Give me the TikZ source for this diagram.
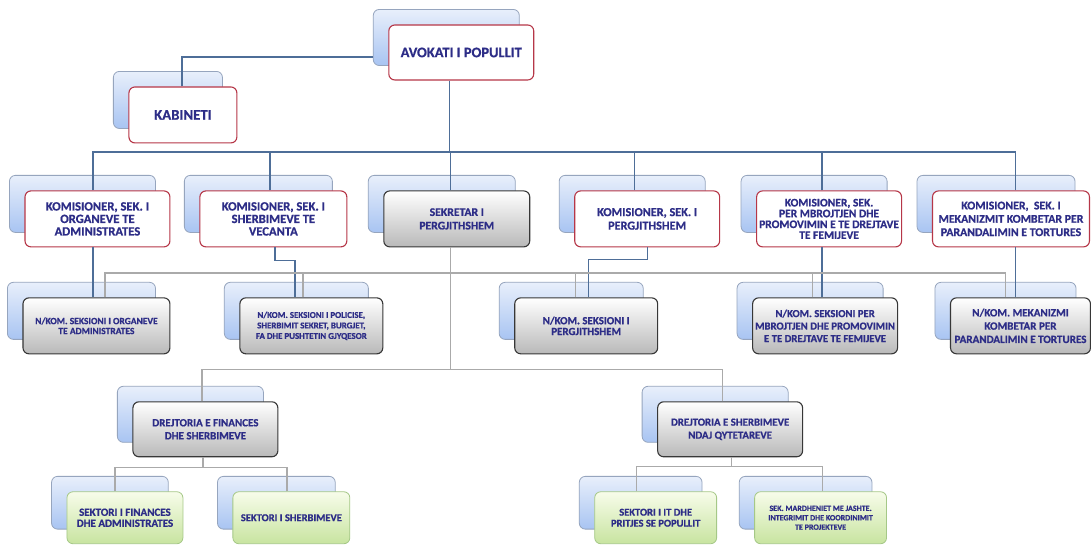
\documentclass[tikz,border=0pt]{standalone}
\usepackage{fontspec}
\newfontfamily\orgfont{Carlito}[BoldFeatures={FakeBold=0.8}]
\usetikzlibrary{backgrounds}

\definecolor{orgtext}{RGB}{45,45,135}
\definecolor{linkblue}{RGB}{78,110,152}
\definecolor{linkgray}{RGB}{170,170,170}
\definecolor{rededge}{RGB}{182,55,72}
\definecolor{darkedge}{RGB}{55,55,55}
\definecolor{greenedge}{RGB}{165,200,135}
\definecolor{backedge}{RGB}{150,165,190}
\definecolor{backtop}{RGB}{232,239,251}
\definecolor{backbot}{RGB}{168,196,242}
\definecolor{graybot}{RGB}{185,185,185}
\definecolor{greentop}{RGB}{247,252,234}
\definecolor{greenbot}{RGB}{200,228,160}

\begin{document}
\begin{tikzpicture}[x=1pt, y=-1pt,
    unit/.style={rounded corners=6pt, align=center, inner sep=1pt, text=orgtext, minimum height=56},
    redunit/.style={unit, draw=rededge, line width=1.1pt, fill=white},
    grayunit/.style={unit, draw=darkedge, line width=1.1pt, top color=white, bottom color=graybot},
    greenunit/.style={unit, draw=greenedge, line width=0.8pt, top color=greentop, bottom color=greenbot, minimum height=52},
    backunit/.style={rounded corners=6pt, draw=backedge, line width=0.8pt, top color=backtop, bottom color=backbot},
    boldfs/.style 2 args={font=\orgfont\bfseries\fontsize{#1}{#2}\selectfont},
    bline/.style={draw=linkblue, line width=1.3pt},
    gline/.style={draw=linkgray, line width=1.3pt}]

  % top
  \node[redunit, boldfs={14.5}{16}, minimum width=145, minimum height=55] (avok) at (461.5,52.5) {AVOKATI I POPULLIT};
  \node[redunit, boldfs={14.8}{16}, minimum width=108] (kab) at (183,115) {KABINETI};

  % komisioneret
  \node[redunit, boldfs={12.6}{12.5}, minimum width=145] (k1) at (97.5,219) {KOMISIONER, SEK. I\\ORGANEVE TE\\ADMINISTRATES};
  \node[redunit, boldfs={12.6}{12.5}, minimum width=147] (k2) at (273.5,219) {KOMISIONER, SEK. I\\SHERBIMEVE TE\\VECANTA};
  \node[grayunit, boldfs={11.7}{13.5}, minimum width=146] (sek) at (457,219) {SEKRETAR I\\PERGJITHSHEM};
  \node[redunit, boldfs={12.2}{13.5}, minimum width=145] (k4) at (647.5,219) {KOMISIONER, SEK. I\\PERGJITHSHEM};
  \node[redunit, boldfs={11.5}{10.8}, minimum width=145] (k5) at (829.5,219) {KOMISIONER, SEK.\\PER MBROJTJEN DHE\\PROMOVIMIN E TE DREJTAVE\\TE FEMIJEVE};
  \node[redunit, boldfs={11.8}{13.3}, minimum width=157] (k6) at (1011.5,219) {KOMISIONER,\ \ SEK. I\\MEKANIZMIT KOMBETAR PER\\PARANDALIMIN E TORTURES};

  % seksionet
  \node[grayunit, boldfs={9.5}{10}, minimum width=147] (n1) at (96.5,326) {N/KOM. SEKSIONI I ORGANEVE\\TE ADMINISTRATES};
  \node[grayunit, boldfs={8.9}{10.5}, minimum width=143] (n2) at (311.5,326) {N/KOM. SEKSIONI I POLICISE,\\SHERBIMIT SEKRET, BURGJET,\\FA DHE PUSHTETIN GJYQESOR};
  \node[grayunit, boldfs={10.9}{10.8}, minimum width=143] (n3) at (586.5,326) {N/KOM. SEKSIONI I\\PERGJITHSHEM};
  \node[grayunit, boldfs={10.7}{12.5}, minimum width=145] (n4) at (825.5,326) {N/KOM. SEKSIONI PER\\MBROJTJEN DHE PROMOVIMIN\\E TE DREJTAVE TE FEMIJEVE};
  \node[grayunit, boldfs={11.1}{13.3}, minimum width=140] (n5) at (1021,326) {N/KOM. MEKANIZMI\\KOMBETAR PER\\PARANDALIMIN E TORTURES};

  % drejtorite
  \node[grayunit, boldfs={11}{13}, minimum width=145, minimum height=55] (d1) at (205.5,429.5) {DREJTORIA E FINANCES\\DHE SHERBIMEVE};
  \node[grayunit, boldfs={10.8}{13}, minimum width=145, minimum height=55] (d2) at (730.5,429.5) {DREJTORIA E SHERBIMEVE\\NDAJ QYTETAREVE};

  % sektoret
  \node[greenunit, boldfs={11}{11}, minimum width=116] (s1) at (125,518) {SEKTORI I FINANCES\\DHE ADMINISTRATES};
  \node[greenunit, boldfs={10.5}{11}, minimum width=117] (s2) at (291.5,518) {SEKTORI I SHERBIMEVE};
  \node[greenunit, boldfs={10.5}{11}, minimum width=122] (s3) at (656,518) {SEKTORI I IT DHE\\PRITJES SE POPULLIT};
  \node[greenunit, boldfs={8}{9.4}, minimum width=132] (s4) at (821,518) {SEK. MARDHENIET ME JASHTE.\\INTEGRIMIT DHE KOORDINIMIT\\TE PROJEKTEVE};

  % shadow boxes
  \begin{scope}[on background layer]
    \fill[white] (0,0) rectangle (1091,544);
    \foreach \n in {avok,kab,k1,k2,sek,k4,k5,k6,n1,n2,n3,n4,n5,d1,d2,s1,s2,s3,s4}
      \draw[backunit] ([shift={(-15,-15)}]\n.south west) rectangle ([shift={(-15,-15)}]\n.north east);
  \end{scope}

  % blue links
  \coordinate (bus) at (450,152);
  \draw[bline] ([xshift=-11.5]avok.south) -- (bus);
  \draw[bline] ([xshift=-1]kab.north) |- ([xshift=-15,yshift=-4.5]avok.west);
  \foreach \n/\d in {k1/-4.5,k2/-3.5,sek/-6,k4/-12.5,k5/-7,k6/4.5}
    \draw[bline] ([xshift=\d]\n.north) |- (bus);
  \draw[bline] ([xshift=-4.5]k1.south) -- ([xshift=-3.5]n1.north);
  \draw[bline] ([xshift=1.5]k2.south) -- ++(0,13) -| ([xshift=-16.5]n2.north);
  \draw[bline] (k4.south) -- ++(0,12) -| ([xshift=2.5]n3.north);
  \draw[bline] ([xshift=-7]k5.south) -- ([xshift=-3]n4.north);
  \draw[bline] ([xshift=4.5]k6.south) -- ([xshift=-5]n5.north);

  % gray links
  \coordinate (g3) at (451,273);
  \coordinate (g4) at (451,370);
  \coordinate (fj) at (203,468);
  \coordinate (qj) at (732,467);
  \draw[gline] ([xshift=-6]sek.south) -- (g4);
  \foreach \n/\d in {n1/8.5,n2/-8.5,n3/-10.5,n4/-12.5,n5/-15}
    \draw[gline] ([xshift=\d]\n.north) |- (g3);
  \foreach \n/\d in {d1/-3.5,d2/-7.5}
    \draw[gline] ([xshift=\d]\n.north) |- (g4);
  \draw[gline] ([xshift=-2.5]d1.south) -- (fj);
  \draw[gline] ([xshift=1.5]d2.south) -- (qj);
  \foreach \n/\d in {s1/-10,s2/-4.5}
    \draw[gline] ([xshift=\d]\n.north) |- (fj);
  \foreach \n/\d in {s3/-19,s4/2}
    \draw[gline] ([xshift=\d]\n.north) |- (qj);

  \useasboundingbox (0,0) rectangle (1091,544);
\end{tikzpicture}
\end{document}
